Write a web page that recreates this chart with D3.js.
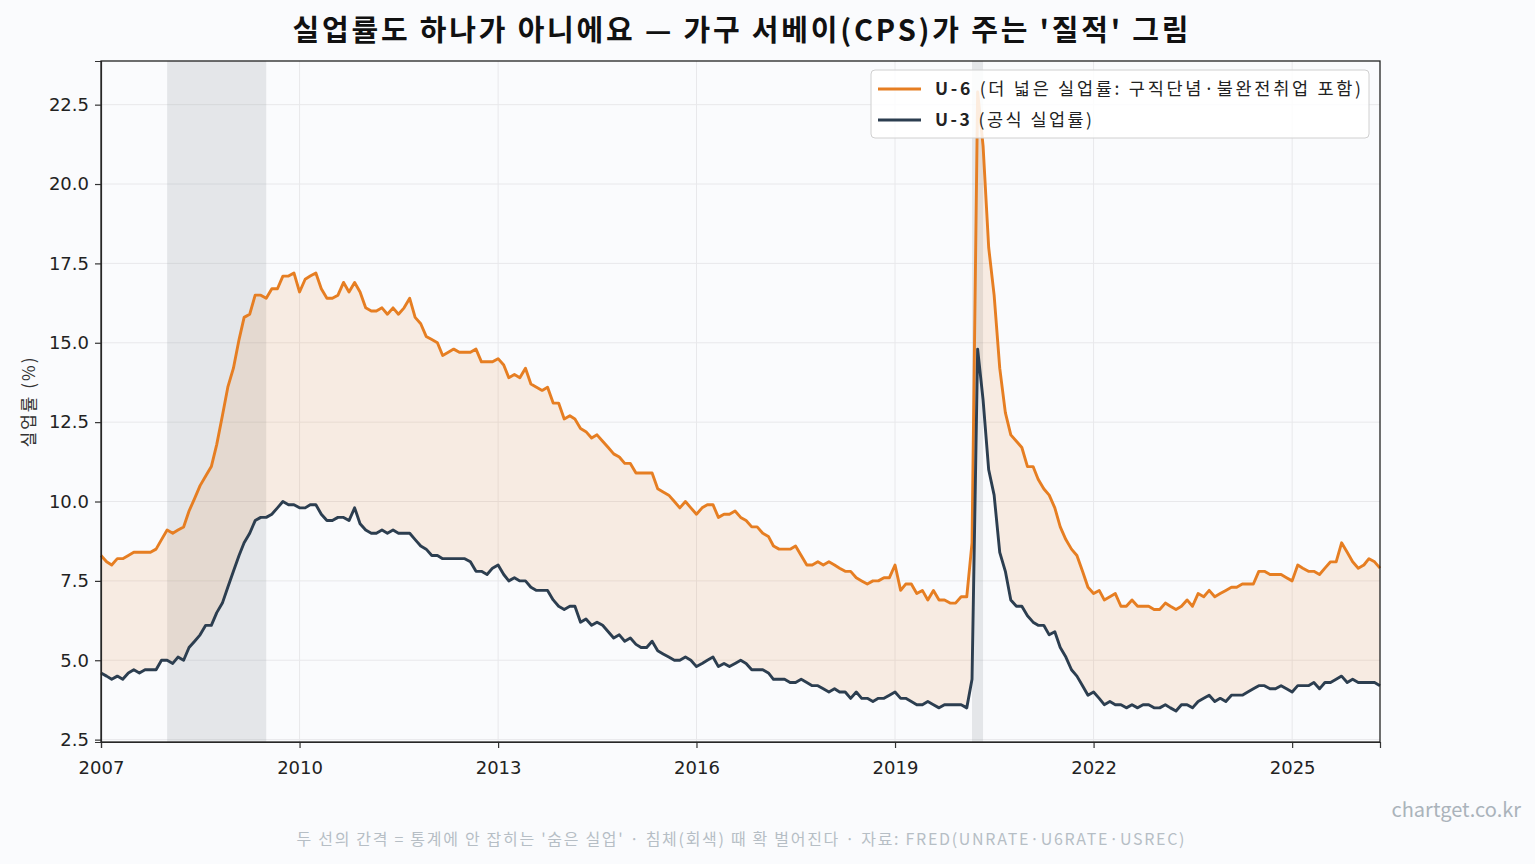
<!DOCTYPE html>
<html>
<head>
<meta charset="utf-8" />
<script src="https://cdn.jsdelivr.net/npm/d3@7"></script>
<style>
  body { margin: 0; background: #fafbfd; }
  svg { display: block; font-family: "Noto Sans CJK KR", "Noto Sans", sans-serif; }
  .grid line { stroke: #e8e8eb; stroke-width: 1; }
  .axis text { font-family: "DejaVu Sans", "Noto Sans CJK KR", sans-serif; font-size: 18px; fill: #222; }
  .axis path, .axis line { stroke: #333; stroke-width: 1.2; }
</style>
</head>
<body>
<div id="chart"></div>
<script>
// monthly series, Jan 2007 .. May 2026
var startMonth = "2007-01";

var u6 = [
  8.3, 8.1, 8.0, 8.2, 8.2, 8.3, 8.4, 8.4, 8.4, 8.4, 8.5, 8.8,          // 2007
  9.1, 9.0, 9.1, 9.2, 9.7, 10.1, 10.5, 10.8, 11.1, 11.8, 12.7, 13.6,   // 2008
  14.2, 15.1, 15.8, 15.9, 16.5, 16.5, 16.4, 16.7, 16.7, 17.1, 17.1, 17.2, // 2009
  16.6, 17.0, 17.1, 17.2, 16.7, 16.4, 16.4, 16.5, 16.9, 16.6, 16.9, 16.6, // 2010
  16.1, 16.0, 16.0, 16.1, 15.9, 16.1, 15.9, 16.1, 16.4, 15.8, 15.6, 15.2, // 2011
  15.1, 15.0, 14.6, 14.7, 14.8, 14.7, 14.7, 14.7, 14.8, 14.4, 14.4, 14.4, // 2012
  14.5, 14.3, 13.9, 14.0, 13.9, 14.2, 13.7, 13.6, 13.5, 13.6, 13.1, 13.1, // 2013
  12.6, 12.7, 12.6, 12.3, 12.2, 12.0, 12.1, 11.9, 11.7, 11.5, 11.4, 11.2, // 2014
  11.2, 10.9, 10.9, 10.9, 10.9, 10.4, 10.3, 10.2, 10.0, 9.8, 10.0, 9.8,  // 2015
  9.6, 9.8, 9.9, 9.9, 9.5, 9.6, 9.6, 9.7, 9.5, 9.4, 9.2, 9.2,          // 2016
  9.0, 8.9, 8.6, 8.5, 8.5, 8.5, 8.6, 8.3, 8.0, 8.0, 8.1, 8.0,          // 2017
  8.1, 8.0, 7.9, 7.8, 7.8, 7.6, 7.5, 7.4, 7.5, 7.5, 7.6, 7.6,          // 2018
  8.0, 7.2, 7.4, 7.4, 7.1, 7.2, 6.9, 7.2, 6.9, 6.9, 6.8, 6.8,          // 2019
  7.0, 7.0, 8.7, 22.9, 21.2, 18.0, 16.5, 14.2, 12.8, 12.1, 11.9, 11.7, // 2020
  11.1, 11.1, 10.7, 10.4, 10.2, 9.8, 9.2, 8.8, 8.5, 8.3, 7.8, 7.3,     // 2021
  7.1, 7.2, 6.9, 7.0, 7.1, 6.7, 6.7, 6.9, 6.7, 6.7, 6.7, 6.6,          // 2022
  6.6, 6.8, 6.7, 6.6, 6.7, 6.9, 6.7, 7.1, 7.0, 7.2, 7.0, 7.1,          // 2023
  7.2, 7.3, 7.3, 7.4, 7.4, 7.4, 7.8, 7.8, 7.7, 7.7, 7.7, 7.6,          // 2024
  7.5, 8.0, 7.9, 7.8, 7.8, 7.7, 7.9, 8.1, 8.1, 8.7, 8.4, 8.1,          // 2025
  7.9, 8.0, 8.2, 8.1, 7.9                                              // 2026
];

var u3 = [
  4.6, 4.5, 4.4, 4.5, 4.4, 4.6, 4.7, 4.6, 4.7, 4.7, 4.7, 5.0,   // 2007
  5.0, 4.9, 5.1, 5.0, 5.4, 5.6, 5.8, 6.1, 6.1, 6.5, 6.8, 7.3,   // 2008
  7.8, 8.3, 8.7, 9.0, 9.4, 9.5, 9.5, 9.6, 9.8, 10.0, 9.9, 9.9,  // 2009
  9.8, 9.8, 9.9, 9.9, 9.6, 9.4, 9.4, 9.5, 9.5, 9.4, 9.8, 9.3,   // 2010
  9.1, 9.0, 9.0, 9.1, 9.0, 9.1, 9.0, 9.0, 9.0, 8.8, 8.6, 8.5,   // 2011
  8.3, 8.3, 8.2, 8.2, 8.2, 8.2, 8.2, 8.1, 7.8, 7.8, 7.7, 7.9,   // 2012
  8.0, 7.7, 7.5, 7.6, 7.5, 7.5, 7.3, 7.2, 7.2, 7.2, 6.9, 6.7,   // 2013
  6.6, 6.7, 6.7, 6.2, 6.3, 6.1, 6.2, 6.1, 5.9, 5.7, 5.8, 5.6,   // 2014
  5.7, 5.5, 5.4, 5.4, 5.6, 5.3, 5.2, 5.1, 5.0, 5.0, 5.1, 5.0,   // 2015
  4.8, 4.9, 5.0, 5.1, 4.8, 4.9, 4.8, 4.9, 5.0, 4.9, 4.7, 4.7,   // 2016
  4.7, 4.6, 4.4, 4.4, 4.4, 4.3, 4.3, 4.4, 4.3, 4.2, 4.2, 4.1,   // 2017
  4.0, 4.1, 4.0, 4.0, 3.8, 4.0, 3.8, 3.8, 3.7, 3.8, 3.8, 3.9,   // 2018
  4.0, 3.8, 3.8, 3.7, 3.6, 3.6, 3.7, 3.6, 3.5, 3.6, 3.6, 3.6,   // 2019
  3.6, 3.5, 4.4, 14.8, 13.2, 11.0, 10.2, 8.4, 7.8, 6.9, 6.7, 6.7, // 2020
  6.4, 6.2, 6.1, 6.1, 5.8, 5.9, 5.4, 5.1, 4.7, 4.5, 4.2, 3.9,   // 2021
  4.0, 3.8, 3.6, 3.7, 3.6, 3.6, 3.5, 3.6, 3.5, 3.6, 3.6, 3.5,   // 2022
  3.5, 3.6, 3.5, 3.4, 3.6, 3.6, 3.5, 3.7, 3.8, 3.9, 3.7, 3.8,   // 2023
  3.7, 3.9, 3.9, 3.9, 4.0, 4.1, 4.2, 4.2, 4.1, 4.1, 4.2, 4.1,   // 2024
  4.0, 4.2, 4.2, 4.2, 4.3, 4.1, 4.3, 4.3, 4.4, 4.5, 4.3, 4.4,   // 2025
  4.3, 4.3, 4.3, 4.3, 4.2                                       // 2026
];

// recession months (USREC = 1), first and last month
var recessions = [["2008-01", "2009-06"], ["2020-03", "2020-04"]];

var yTicks = [2.5, 5.0, 7.5, 10.0, 12.5, 15.0, 17.5, 20.0, 22.5];
var xTickYears = [2007, 2010, 2013, 2016, 2019, 2022, 2025];

var W = 1535, H = 864;
var margin = {top: 61, right: 155, bottom: 122, left: 101};
var iw = W - margin.left - margin.right, ih = H - margin.top - margin.bottom;

var parseMonth = d3.timeParse("%Y-%m");
var t0 = parseMonth(startMonth);
var data = u6.map(function(v, i) {
  return {date: d3.timeMonth.offset(t0, i), u6: v, u3: u3[i]};
});

var svg = d3.select("#chart").append("svg")
  .attr("width", W)
  .attr("height", H);

svg.append("rect").attr("width", W).attr("height", H).attr("fill", "#fafbfd");

var g = svg.append("g")
  .attr("transform", "translate(" + margin.left + "," + margin.top + ")");

var x = d3.scaleTime()
  .domain(d3.extent(data, function(d) { return d.date; }))
  .range([0, iw]);

// matplotlib-style 5% padding on y
var lo = d3.min(data, function(d) { return d.u3; });
var hi = d3.max(data, function(d) { return d.u6; });
var pad = (hi - lo) * 0.05;
var y = d3.scaleLinear().domain([lo - pad, hi + pad]).range([ih, 0]);

var xTicks = xTickYears.map(function(yr) { return new Date(yr, 0, 1); });

// grid
g.append("g").attr("class", "grid")
  .selectAll("line.gy").data(yTicks).enter().append("line")
    .attr("x1", 0).attr("x2", iw)
    .attr("y1", function(d) { return y(d); })
    .attr("y2", function(d) { return y(d); });
g.append("g").attr("class", "grid")
  .selectAll("line.gx").data(xTicks).enter().append("line")
    .attr("y1", 0).attr("y2", ih)
    .attr("x1", function(d) { return x(d); })
    .attr("x2", function(d) { return x(d); });

// recession shading
g.selectAll(".rec").data(recessions).enter().append("rect")
  .attr("class", "rec")
  .attr("x", function(d) { return x(parseMonth(d[0])); })
  .attr("width", function(d) {
    return x(d3.timeMonth.offset(parseMonth(d[1]), 1)) - x(parseMonth(d[0]));
  })
  .attr("y", 0).attr("height", ih)
  .attr("fill", "#8c979a").attr("opacity", 0.2);

// gap between the two lines
var area = d3.area()
  .x(function(d) { return x(d.date); })
  .y0(function(d) { return y(d.u3); })
  .y1(function(d) { return y(d.u6); });

g.append("path").datum(data)
  .attr("d", area)
  .attr("fill", "#e67e22").attr("opacity", 0.12);

var lineU6 = d3.line().x(function(d) { return x(d.date); }).y(function(d) { return y(d.u6); });
var lineU3 = d3.line().x(function(d) { return x(d.date); }).y(function(d) { return y(d.u3); });

g.append("path").datum(data)
  .attr("d", lineU6)
  .attr("fill", "none").attr("stroke", "#e67e22")
  .attr("stroke-width", 2.9).attr("stroke-linejoin", "round");

g.append("path").datum(data)
  .attr("d", lineU3)
  .attr("fill", "none").attr("stroke", "#2c3e50")
  .attr("stroke-width", 2.9).attr("stroke-linejoin", "round");

// axes
g.append("g").attr("class", "axis")
  .attr("transform", "translate(0," + ih + ")")
  .call(d3.axisBottom(x).tickValues(xTicks).tickFormat(d3.timeFormat("%Y")).tickSizeOuter(0).tickSize(6).tickPadding(13));

g.append("g").attr("class", "axis")
  .call(d3.axisLeft(y).tickValues(yTicks).tickFormat(d3.format(".1f")).tickSizeOuter(0).tickSize(6).tickPadding(6));

// frame
g.append("rect")
  .attr("width", iw).attr("height", ih)
  .attr("fill", "none").attr("stroke", "#222").attr("stroke-width", 1.3);

// y label
svg.append("text")
  .attr("transform", "translate(35," + (margin.top + ih / 2) + ") rotate(-90)")
  .attr("text-anchor", "middle")
  .attr("font-size", 17).attr("letter-spacing", 2).attr("fill", "#333")
  .text("실업률 (%)");

// title
svg.append("text")
  .attr("x", margin.left + iw / 2).attr("y", 41)
  .attr("text-anchor", "middle")
  .attr("font-size", 29).attr("font-weight", "bold").attr("fill", "#111")
  .attr("textLength", 896).attr("lengthAdjust", "spacing")
  .text("실업률도 하나가 아니에요 — 가구 서베이(CPS)가 주는 '질적' 그림");

// legend
var legend = g.append("g").attr("transform", "translate(" + (iw - 509) + ",9)");
legend.append("rect")
  .attr("width", 498).attr("height", 68).attr("rx", 4)
  .attr("fill", "#fff").attr("fill-opacity", 0.85)
  .attr("stroke", "#d0d0d0");

var legendItems = [
  {key: "U-6", label: " (더 넓은 실업률: 구직단념·불완전취업 포함)", color: "#e67e22", len: 426},
  {key: "U-3", label: " (공식 실업률)", color: "#2c3e50", len: 157}
];
var li = legend.selectAll(".li").data(legendItems).enter().append("g")
  .attr("transform", function(d, i) { return "translate(7," + (19 + i * 31) + ")"; });
li.append("line").attr("x1", 0).attr("x2", 43)
  .attr("stroke", function(d) { return d.color; }).attr("stroke-width", 3);
var lt = li.append("text").attr("x", 57).attr("dy", "0.36em")
  .attr("font-size", 17.5).attr("fill", "#222")
  .attr("textLength", function(d) { return d.len; }).attr("lengthAdjust", "spacing");
lt.append("tspan").attr("font-weight", "bold").text(function(d) { return d.key; });
lt.append("tspan").text(function(d) { return d.label; });

// watermark + footnote
svg.append("text")
  .attr("x", 1521).attr("y", 817)
  .attr("text-anchor", "end")
  .attr("font-size", 20).attr("fill", "#aab3bb")
  .text("chartget.co.kr");

svg.append("text")
  .attr("x", margin.left + iw / 2).attr("y", 845)
  .attr("text-anchor", "middle")
  .attr("font-size", 16).attr("fill", "#b6bec5")
  .attr("textLength", 888).attr("lengthAdjust", "spacing")
  .text("두 선의 간격 = 통계에 안 잡히는 '숨은 실업' · 침체(회색) 때 확 벌어진다 · 자료: FRED(UNRATE·U6RATE·USREC)");
</script>
</body>
</html>
